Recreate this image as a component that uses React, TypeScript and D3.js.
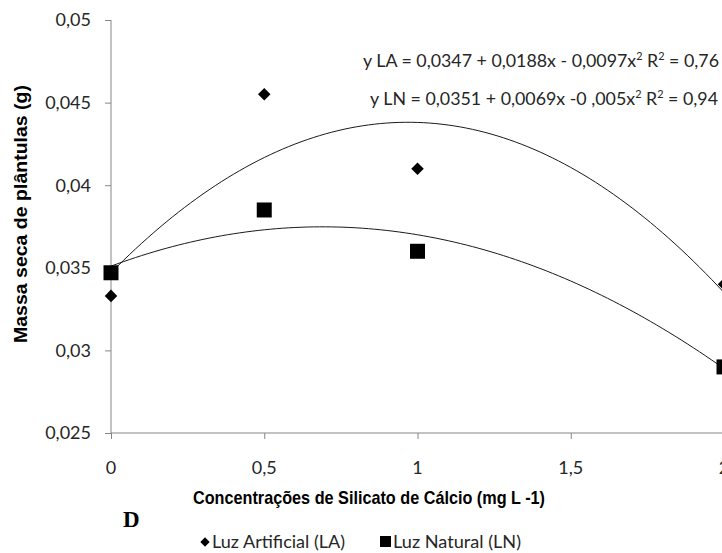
import React, { useEffect, useRef } from 'react';
import * as d3 from 'd3';

// concentrações (mg L-1) e massa seca (g)
const concentracoes = [0, 0.5, 1, 2];
const luzArtificial = [0.0333, 0.0455, 0.041, 0.034];
const luzNatural = [0.0347, 0.0385, 0.036, 0.029];

// coeficientes das equações de regressão (a + bx + cx²)
const coefLA = [0.0347, 0.0188, -0.0097];
const coefLN = [0.0351, 0.0069, -0.005];

const yTicks = [0.025, 0.03, 0.035, 0.04, 0.045, 0.05];
const xTicks = [0, 0.5, 1, 1.5, 2];

const W = 722;
const H = 553;
const calibri = "Lato, 'Open Sans', sans-serif";
const arialBold = "'Liberation Sans', Arial, sans-serif";

const fmt = (v: number) => String(+v.toFixed(4)).replace('.', ',');

export default function App() {
  const ref = useRef<SVGSVGElement>(null);

  useEffect(() => {
    const svg = d3.select(ref.current);
    svg.selectAll('*').remove();

    const x = d3.scaleLinear().domain([0, 2]).range([111, 724]);
    const y = d3.scaleLinear().domain([0.025, 0.05]).range([433, 20]);

    // eixos
    const axisColor = '#868686';
    const gy = svg.append('g').attr('transform', `translate(${x(0)},0)`);
    gy.call(d3.axisLeft(y).tickValues(yTicks).tickSize(6).tickFormat(() => ''));
    gy.select('.domain').attr('stroke', axisColor).attr('d', `M0,${y(0.05)}V${y(0.025)}`);
    gy.selectAll('.tick line').attr('stroke', axisColor);

    const gx = svg.append('g').attr('transform', `translate(0,${y(0.025)})`);
    gx.call(d3.axisBottom(x).tickValues(xTicks).tickSize(6).tickFormat(() => ''));
    gx.select('.domain').attr('stroke', axisColor).attr('d', `M${x(0)},0H${x(2)}`);
    gx.selectAll('.tick line').attr('stroke', axisColor);

    // rótulos dos eixos
    svg.append('g')
      .attr('font-family', calibri)
      .attr('font-size', 18)
      .attr('fill', '#262626')
      .attr('text-anchor', 'end')
      .selectAll('text')
      .data(yTicks)
      .join('text')
      .attr('x', 91)
      .attr('y', d => y(d))
      .attr('dy', '0.36em')
      .text(d => fmt(d));

    svg.append('g')
      .attr('font-family', calibri)
      .attr('font-size', 18)
      .attr('fill', '#262626')
      .attr('text-anchor', 'middle')
      .selectAll('text')
      .data(xTicks)
      .join('text')
      .attr('x', d => x(d))
      .attr('y', 474)
      .text(d => fmt(d));

    svg.append('text')
      .attr('x', 369)
      .attr('y', 504)
      .attr('text-anchor', 'middle')
      .attr('font-family', arialBold)
      .attr('font-weight', 'bold')
      .attr('font-size', 19)
      .attr('textLength', 352)
      .attr('lengthAdjust', 'spacingAndGlyphs')
      .text('Concentrações de Silicato de Cálcio (mg L -1)');

    svg.append('text')
      .attr('transform', 'translate(27,214) rotate(-90)')
      .attr('text-anchor', 'middle')
      .attr('font-family', arialBold)
      .attr('font-weight', 'bold')
      .attr('font-size', 19)
      .attr('textLength', 258)
      .attr('lengthAdjust', 'spacingAndGlyphs')
      .text('Massa seca de plântulas (g)');

    // linhas de tendência
    const poly = (c: number[]) => (v: number) => c[0] + c[1] * v + c[2] * v * v;
    const xs = d3.range(0, 2.0001, 0.02);
    const line = d3.line<number>().x(d => x(d)).curve(d3.curveMonotoneX);
    [coefLA, coefLN].forEach(c => {
      const f = poly(c);
      svg.append('path')
        .attr('fill', 'none')
        .attr('stroke', '#1a1a1a')
        .attr('stroke-width', 1)
        .attr('d', line.y(d => y(f(d)))(xs));
    });

    // pontos
    const diamond = d3.symbol().type(d3.symbolDiamond2).size(100);
    svg.append('g')
      .selectAll('path')
      .data(concentracoes)
      .join('path')
      .attr('transform', (d, i) => `translate(${x(d)},${y(luzArtificial[i])})`)
      .attr('d', diamond());

    svg.append('g')
      .selectAll('rect')
      .data(concentracoes)
      .join('rect')
      .attr('x', d => x(d) - 7.5)
      .attr('y', (d, i) => y(luzNatural[i]) - 7.5)
      .attr('width', 15)
      .attr('height', 15);

    // equações
    const eq = (x0: number, yy: number, parts: [string, boolean][], len: number) => {
      const t = svg.append('text')
        .attr('x', x0)
        .attr('y', yy)
        .attr('font-family', calibri)
        .attr('font-size', 18)
        .attr('fill', '#262626')
        .attr('textLength', len)
        .attr('lengthAdjust', 'spacingAndGlyphs');
      parts.forEach(([s, sup], i) => {
        const ts = t.append('tspan').text(s);
        if (sup) ts.attr('font-size', 11).attr('dy', -7);
        else if (i > 0 && parts[i - 1][1]) ts.attr('dy', 7);
      });
      return t;
    };
    eq(363, 67, [['y LA = 0,0347 + 0,0188x - 0,0097x', false], ['2', true], [' R', false], ['2', true], [' = 0,76', false]], 356);
    eq(370, 105, [['y LN = 0,0351 + 0,0069x -0 ,005x', false], ['2', true], [' R', false], ['2', true], [' = 0,94', false]], 348);

    // letra do painel
    svg.append('text')
      .attr('x', 123)
      .attr('y', 527)
      .attr('font-family', "'Liberation Serif', 'Times New Roman', serif")
      .attr('font-weight', 'bold')
      .attr('font-size', 23)
      .text('D');

    // legenda
    const leg = svg.append('g').attr('font-family', calibri).attr('font-size', 17).attr('fill', '#262626');
    leg.append('path')
      .attr('transform', 'translate(205,542)')
      .attr('fill', '#000')
      .attr('d', d3.symbol().type(d3.symbolDiamond2).size(55)());
    leg.append('text').attr('x', 212).attr('y', 548).attr('textLength', 133).attr('lengthAdjust', 'spacingAndGlyphs').text('Luz Artificial (LA)');
    leg.append('rect').attr('x', 380).attr('y', 536).attr('width', 11).attr('height', 11).attr('fill', '#000');
    leg.append('text').attr('x', 393).attr('y', 548).attr('textLength', 128).attr('lengthAdjust', 'spacingAndGlyphs').text('Luz Natural (LN)');
  }, []);

  return (
    <svg
      ref={ref}
      width={W}
      height={H}
      style={{ position: 'absolute', left: 0, top: 0, background: '#fff', overflow: 'hidden' }}
    />
  );
}
